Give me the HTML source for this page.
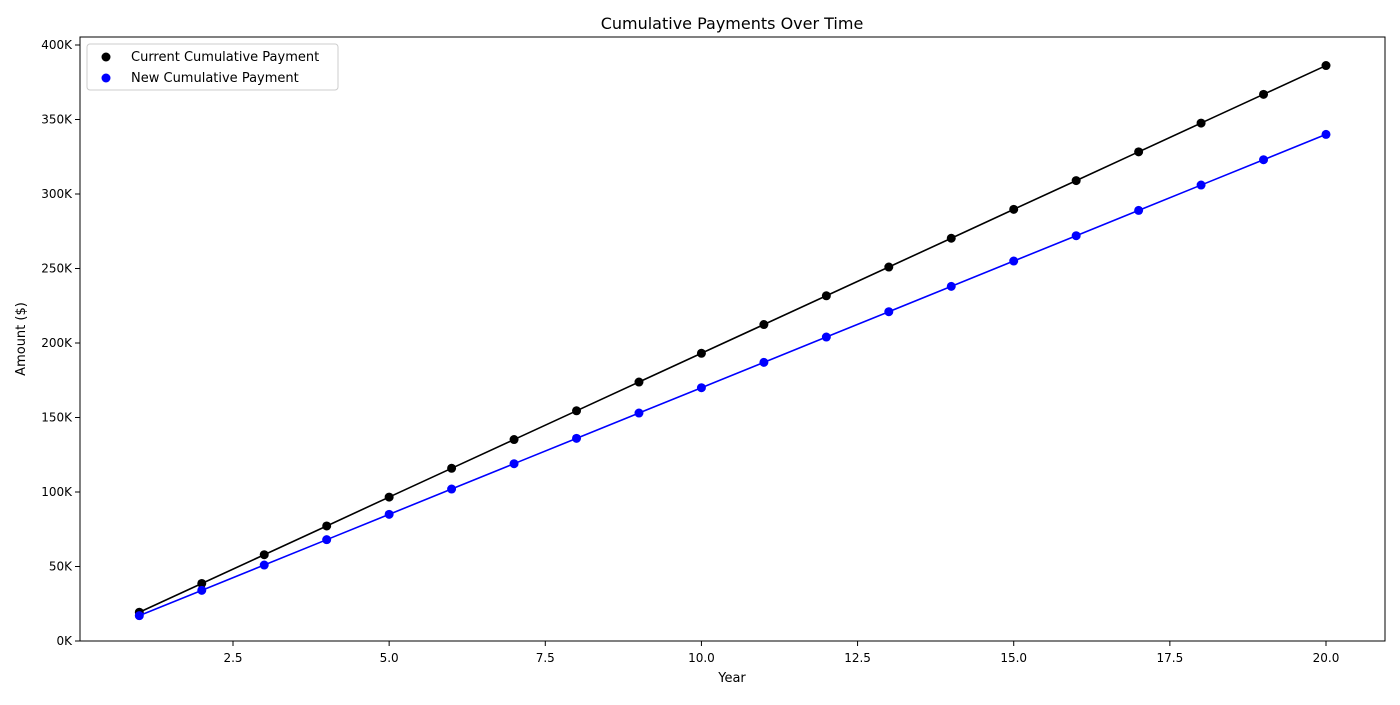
<!DOCTYPE html>
<html><head><meta charset="utf-8"><style>
body{margin:0;background:#fff;font-family:"Liberation Sans","DejaVu Sans",sans-serif;}
svg text{font-family:"DejaVu Sans","Liberation Sans",sans-serif;}
</style></head><body>
<svg id="chart" width="1400" height="700" xmlns="http://www.w3.org/2000/svg">
<rect width="1400" height="700" fill="#fff"/>
<text x="732" y="29" font-size="16" text-anchor="middle">Cumulative Payments Over Time</text>
<g id="plot"></g>
<rect x="80" y="37" width="1305" height="604" fill="none" stroke="#000" stroke-width="1"/>
<text x="732" y="682" font-size="13" text-anchor="middle">Year</text>
<text x="25" y="339" font-size="13" text-anchor="middle" transform="rotate(-90 25 339)">Amount ($)</text>
<g>
<rect x="87" y="44" width="251" height="46" rx="3" fill="#fff" stroke="#ccc"/>
<circle cx="106" cy="57" r="4.5" fill="#000"/>
<text x="131" y="61" font-size="13">Current Cumulative Payment</text>
<circle cx="106" cy="78" r="4.5" fill="#0000ff"/>
<text x="131" y="82" font-size="13">New Cumulative Payment</text>
</g>
</svg>
<script>
const years=[1,2,3,4,5,6,7,8,9,10,11,12,13,14,15,16,17,18,19,20];
const currentValues=[19.3,38.6,57.9,77.2,96.6,115.9,135.2,154.5,173.8,193.1,212.4,231.7,251.0,270.3,289.7,309.0,328.3,347.6,366.9,386.2];
const newValues=[17,34,51,68,85,102,119,136,153,170,187,204,221,238,255,272,289,306,323,340];
const xTicks=[2.5,5.0,7.5,10.0,12.5,15.0,17.5,20.0];
const yTicks=[0,50,100,150,200,250,300,350,400];
const NS="http://www.w3.org/2000/svg";
const X=v=>233+(v-2.5)*(1093/17.5);
const Y=v=>641-v*(596/400);
const g=document.getElementById('plot');
function mk(t,a){const e=document.createElementNS(NS,t);for(const k in a)e.setAttribute(k,a[k]);g.appendChild(e);return e;}
xTicks.forEach(t=>{
 const l=mk('line',{x1:X(t),x2:X(t),y1:641,y2:646,stroke:'#000'});
 
 
 const tx=mk('text',{x:X(t),y:662,'font-size':12,'text-anchor':'middle'});tx.textContent=t.toFixed(1);
 
 
});
yTicks.forEach(t=>{
 const l=mk('line',{x1:75,x2:80,y1:Y(t),y2:Y(t),stroke:'#000'});
 
 
 const tx=mk('text',{x:72,y:Y(t)+4,'font-size':12,'text-anchor':'end'});tx.textContent=t+'K';
 
 
});
function series(vals,color,name){
 const p=mk('polyline',{points:years.map((y,i)=>X(y)+','+Y(vals[i])).join(' '),fill:'none',stroke:color,'stroke-width':1.6});
 
 
 years.forEach((y,i)=>{
  const c=mk('circle',{cx:X(y),cy:Y(vals[i]),r:4.5,fill:color});
  
  
 });
}
series(currentValues,'#000','current-payment');
series(newValues,'#0000ff','new-payment');
</script>
</body></html>
